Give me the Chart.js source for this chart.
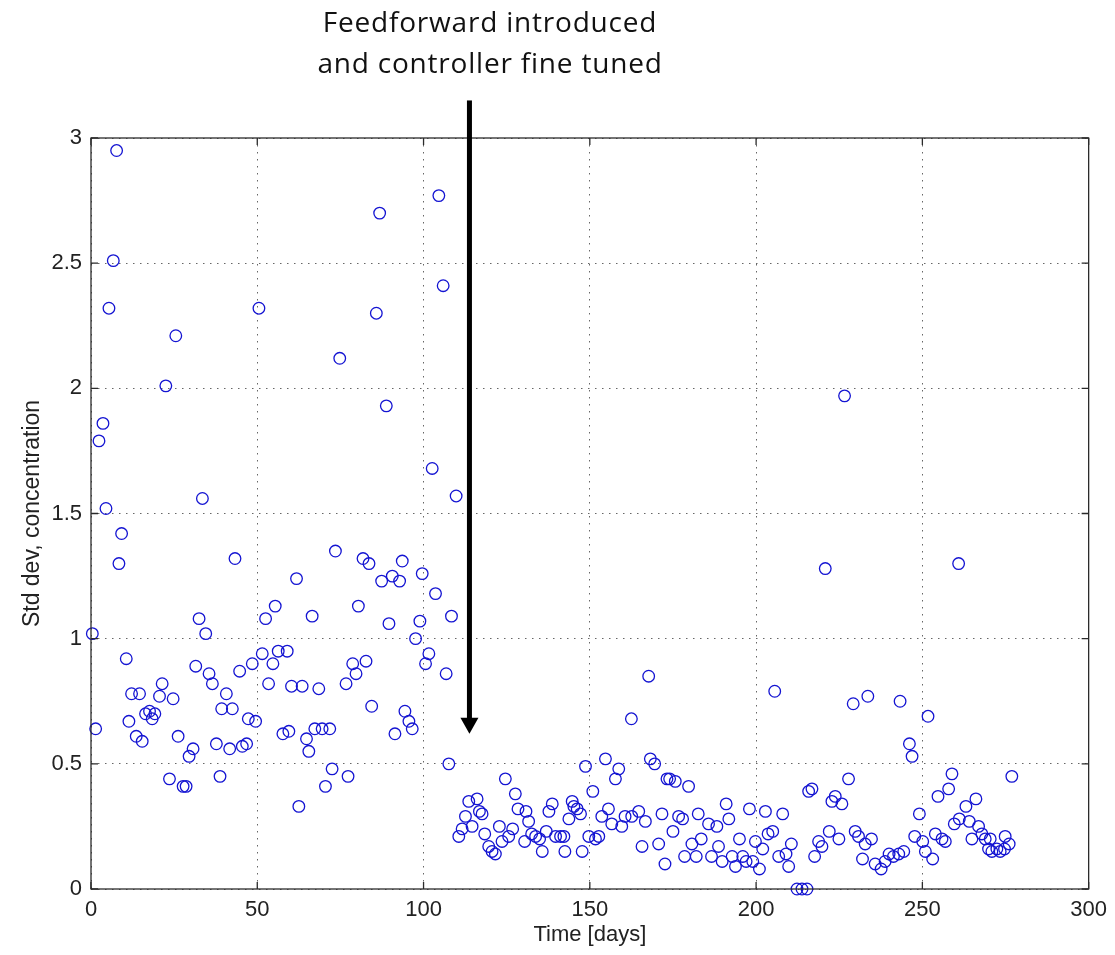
<!DOCTYPE html>
<html>
<head>
<meta charset="utf-8">
<script src="https://cdn.jsdelivr.net/npm/chart.js@4.4.1/dist/chart.umd.min.js"></script>
<style>
  html, body { margin: 0; padding: 0; background: #fff; }
  #wrap { position: relative; width: 1115px; height: 955px; }
  #note {
    position: absolute; left: 240px; top: 1px; width: 500px;
    text-align: center; color: #111;
    font-family: 'Open Sans', 'Noto Sans', sans-serif;
    font-size: 28px; line-height: 41px; letter-spacing: 0.8px;
  }
</style>
</head>
<body>
<div id="wrap">
  <canvas id="stdChart" width="1115" height="955"></canvas>
  <div id="note">Feedforward introduced<br>and controller fine tuned</div>
</div>
<script>
// ========== Data ==========
const days = [
  0.4, 1.4, 2.4, 3.6, 4.5, 5.4, 6.7, 7.7, 8.4, 9.2,
  10.6, 11.4, 12.2, 13.6, 14.6, 15.4, 16.4, 17.6, 18.4, 19.2,
  20.6, 21.4, 22.5, 23.6, 24.7, 25.5, 26.2, 27.7, 28.6, 29.5,
  30.7, 31.5, 32.5, 33.5, 34.5, 35.5, 36.5, 37.7, 38.8, 39.3,
  40.7, 41.7, 42.5, 43.3, 44.7, 45.5, 46.8, 47.3, 48.5, 49.5,
  50.5, 51.5, 52.5, 53.4, 54.7, 55.4, 56.3, 57.7, 59.0, 59.5,
  60.3, 61.8, 62.5, 63.5, 64.8, 65.5, 66.5, 67.3, 68.5, 69.5,
  70.5, 71.8, 72.5, 73.5, 74.8, 76.7, 77.3, 78.7, 79.7, 80.4,
  81.8, 82.7, 83.6, 84.4, 85.8, 86.8, 87.4, 88.8, 89.6, 90.6,
  91.4, 92.8, 93.6, 94.4, 95.6, 96.6, 97.6, 98.9, 99.6, 100.6,
  101.6, 102.6, 103.6, 104.6, 105.9, 106.8, 107.6, 108.4, 109.8,
  110.6, 111.6, 112.6, 113.6, 114.6, 116.1, 116.8, 117.6, 118.4, 119.6,
  120.6, 121.6, 122.8, 123.6, 124.6, 125.6, 126.8, 127.6, 128.4, 130.4,
  130.8, 131.6, 132.5, 133.7, 134.9, 135.7, 136.9, 137.7, 138.7, 139.7,
  141.2, 142.2, 142.5, 143.7, 144.7, 145.2, 146.2, 147.2, 147.7, 148.7,
  149.7, 150.9, 151.7, 152.7, 153.6, 154.7, 155.6, 156.6, 157.7, 158.7,
  159.6, 160.6, 162.5, 162.6, 164.7, 165.7, 166.7, 167.7, 168.2, 169.5,
  170.7, 171.7, 172.6, 173.2, 174.0, 175.0, 175.7, 176.7, 177.9, 178.5,
  179.7, 180.7, 182.0, 182.6, 183.5, 185.7, 186.6, 188.2, 188.7, 189.8,
  191.0, 191.8, 192.8, 193.8, 195.0, 196.0, 197.0, 198.0, 199.0, 199.8,
  201.0, 202.0, 202.8, 203.6, 205.0, 205.6, 206.8, 208.0, 209.0, 209.8,
  210.6, 212.3, 213.8, 215.3, 215.8, 216.8, 217.6, 218.8, 219.8, 220.8,
  222.0, 222.8, 223.8, 224.9, 225.8, 226.6, 227.8, 229.2, 229.8, 230.8,
  232.0, 232.8, 233.6, 234.7, 235.8, 237.6, 238.8, 240.0, 241.3, 242.9,
  243.3, 244.4, 246.1, 246.9, 247.7, 249.1, 250.1, 250.9, 251.7, 253.1,
  253.9, 254.7, 255.9, 256.9, 257.9, 258.9, 259.6, 260.9, 261.1, 263.1,
  264.1, 264.9, 266.1, 266.9, 267.9, 268.9, 269.9, 270.4, 270.9, 272.4,
  273.4, 274.7, 274.9, 276.1, 276.9
];
const stdDev = [
  1.02, 0.64, 1.79, 1.86, 1.52, 2.32, 2.51, 2.95, 1.30, 1.42,
  0.92, 0.67, 0.78, 0.61, 0.78, 0.59, 0.70, 0.71, 0.68, 0.70,
  0.77, 0.82, 2.01, 0.44, 0.76, 2.21, 0.61, 0.41, 0.41, 0.53,
  0.56, 0.89, 1.08, 1.56, 1.02, 0.86, 0.82, 0.58, 0.45, 0.72,
  0.78, 0.56, 0.72, 1.32, 0.87, 0.57, 0.58, 0.68, 0.90, 0.67,
  2.32, 0.94, 1.08, 0.82, 0.90, 1.13, 0.95, 0.62, 0.95, 0.63,
  0.81, 1.24, 0.33, 0.81, 0.60, 0.55, 1.09, 0.64, 0.80, 0.64,
  0.41, 0.64, 0.48, 1.35, 2.12, 0.82, 0.45, 0.90, 0.86, 1.13,
  1.32, 0.91, 1.30, 0.73, 2.30, 2.70, 1.23, 1.93, 1.06, 1.25,
  0.62, 1.23, 1.31, 0.71, 0.67, 0.64, 1.00, 1.07, 1.26, 0.90,
  0.94, 1.68, 1.18, 2.77, 2.41, 0.86, 0.50, 1.09, 1.57,
  0.21, 0.24, 0.29, 0.35, 0.25, 0.36, 0.31, 0.30, 0.22, 0.17,
  0.15, 0.14, 0.25, 0.19, 0.44, 0.21, 0.24, 0.38, 0.32, 0.19,
  0.31, 0.27, 0.22, 0.21, 0.20, 0.15, 0.23, 0.31, 0.34, 0.21,
  0.21, 0.21, 0.15, 0.28, 0.35, 0.33, 0.32, 0.30, 0.15, 0.49,
  0.21, 0.39, 0.20, 0.21, 0.29, 0.52, 0.32, 0.26, 0.44, 0.48,
  0.25, 0.29, 0.68, 0.29, 0.31, 0.17, 0.27, 0.85, 0.52, 0.50,
  0.18, 0.30, 0.10, 0.44, 0.44, 0.23, 0.43, 0.29, 0.28, 0.13,
  0.41, 0.18, 0.13, 0.30, 0.20, 0.26, 0.13, 0.25, 0.17, 0.11,
  0.34, 0.28, 0.13, 0.09, 0.20, 0.13, 0.11, 0.32, 0.11, 0.19,
  0.08, 0.16, 0.31, 0.22, 0.23, 0.79, 0.13, 0.30, 0.14, 0.09,
  0.18, 0.00, 0.00, 0.00, 0.39, 0.40, 0.13, 0.19, 0.17, 1.28,
  0.23, 0.35, 0.37, 0.20, 0.34, 1.97, 0.44, 0.74, 0.23, 0.21,
  0.12, 0.18, 0.77, 0.20, 0.10, 0.08, 0.11, 0.14, 0.13, 0.14,
  0.75, 0.15, 0.58, 0.53, 0.21, 0.30, 0.19, 0.15, 0.69, 0.12,
  0.22, 0.37, 0.20, 0.19, 0.40, 0.46, 0.26, 1.30, 0.28, 0.33,
  0.27, 0.20, 0.36, 0.25, 0.22, 0.20, 0.16, 0.20, 0.15, 0.16,
  0.15, 0.16, 0.21, 0.18, 0.45
];
const xTicks = [0, 50, 100, 150, 200, 250, 300];
const yTicks = [0, 0.5, 1, 1.5, 2, 2.5, 3];

// arrow marking the change (data units)
const arrowDay = 113.8;
const arrowTop = 3.15;
const arrowTip = 0.62;

// ========== Box, inward ticks and arrow ==========
const matlabBox = {
    id: 'matlabBox',
    afterDatasetsDraw(chart) {
        const { ctx, chartArea: a, scales: { x, y } } = chart;
        ctx.save();
        ctx.strokeStyle = '#2b2b2b';
        ctx.lineWidth = 1.3;
        ctx.strokeRect(a.left, a.top, a.right - a.left, a.bottom - a.top);

        ctx.beginPath();
        xTicks.forEach(v => {
            const px = x.getPixelForValue(v);
            ctx.moveTo(px, a.bottom); ctx.lineTo(px, a.bottom - 7);
            ctx.moveTo(px, a.top); ctx.lineTo(px, a.top + 7);
        });
        yTicks.forEach(v => {
            const py = y.getPixelForValue(v);
            ctx.moveTo(a.left, py); ctx.lineTo(a.left + 7, py);
            ctx.moveTo(a.right, py); ctx.lineTo(a.right - 7, py);
        });
        ctx.stroke();

        // arrow
        const ax = x.getPixelForValue(arrowDay);
        const y0 = y.getPixelForValue(arrowTop);
        const y1 = y.getPixelForValue(arrowTip);
        ctx.fillStyle = '#000';
        ctx.fillRect(ax - 2.5, y0, 5, y1 - y0 - 14);
        ctx.beginPath();
        ctx.moveTo(ax - 9, y1 - 16);
        ctx.lineTo(ax + 9, y1 - 16);
        ctx.lineTo(ax, y1);
        ctx.closePath();
        ctx.fill();
        ctx.restore();
    }
};

// ========== Chart ==========
function generateChart() {
    const ctx = document.getElementById('stdChart').getContext('2d');
    const tickFont = { family: "'Liberation Sans', Arial, sans-serif", size: 22 };
    const gridOpts = { color: '#666', lineWidth: 1, drawTicks: false };
    const borderOpts = { display: false, dash: [1.5, 5.5] };

    new Chart(ctx, {
        type: 'scatter',
        data: {
            datasets: [{
                label: 'Std dev',
                data: days.map((d, i) => ({ x: d, y: stdDev[i] })),
                pointStyle: 'circle',
                pointRadius: 5.8,
                pointHoverRadius: 5.8,
                borderWidth: 1.3,
                borderColor: '#1414d2',
                backgroundColor: 'rgba(0,0,0,0)',
                clip: false
            }]
        },
        options: {
            responsive: false,
            animation: false,
            layout: { padding: { top: 138, right: 25, left: 0, bottom: 0 } },
            plugins: {
                legend: { display: false },
                tooltip: { enabled: false }
            },
            scales: {
                x: {
                    type: 'linear', min: 0, max: 300,
                    afterBuildTicks: s => { s.ticks = xTicks.map(v => ({ value: v })); },
                    afterFit: s => { s.height = 66; },
                    ticks: { font: tickFont, color: '#222', padding: 8, maxRotation: 0,
                             callback: v => String(v) },
                    grid: gridOpts,
                    border: borderOpts,
                    title: {
                        display: true, text: 'Time [days]', color: '#222',
                        font: tickFont, padding: { top: 0, bottom: 7 }
                    }
                },
                y: {
                    type: 'linear', min: 0, max: 3,
                    afterBuildTicks: s => { s.ticks = yTicks.map(v => ({ value: v })); },
                    afterFit: s => { s.width = 91; },
                    ticks: { font: tickFont, color: '#222', padding: 9,
                             callback: v => String(v) },
                    grid: gridOpts,
                    border: borderOpts,
                    title: {
                        display: true, text: 'Std dev, concentration', color: '#222',
                        font: { family: "'Liberation Sans', Arial, sans-serif", size: 23 },
                        padding: { top: 19, bottom: 0 }
                    }
                }
            }
        },
        plugins: [matlabBox]
    });
}

document.addEventListener('DOMContentLoaded', generateChart);
</script>
</body>
</html>
